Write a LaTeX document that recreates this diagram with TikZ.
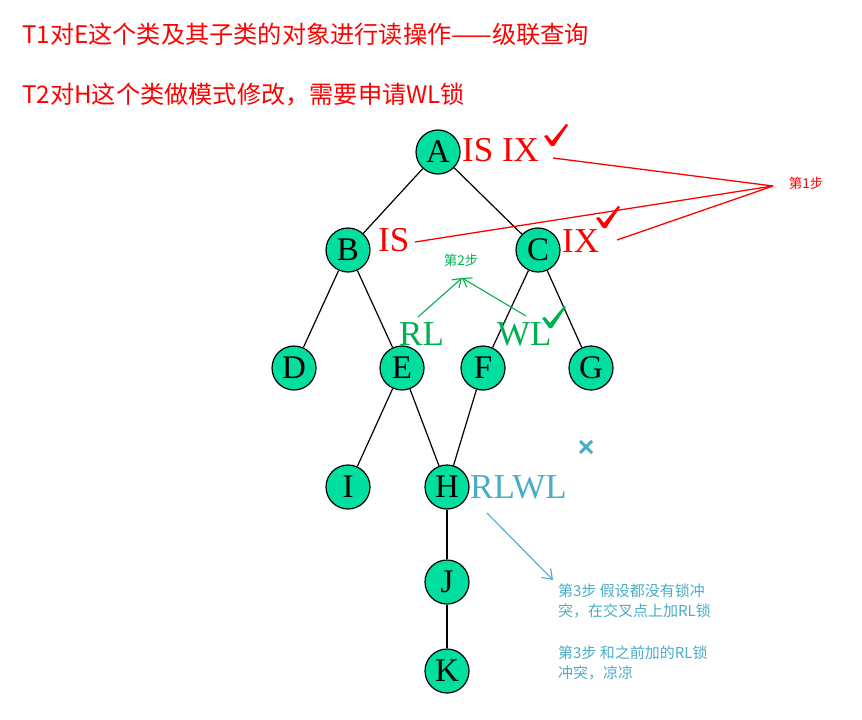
\documentclass[tikz,border=0pt]{standalone}
\usepackage{fontspec}
\setmainfont{Liberation Serif}
\newfontfamily\cjk{Noto Sans CJK SC}
\usetikzlibrary{arrows.meta}
\definecolor{mint}{RGB}{0,222,160}
\definecolor{lred}{RGB}{255,0,0}
\definecolor{lgreen}{RGB}{0,176,80}
\definecolor{lblue}{RGB}{75,172,198}
\begin{document}
\begin{tikzpicture}[x=1pt,y=-1pt,
  vtx/.style={circle,draw=black,line width=1.2pt,fill=mint,minimum size=44pt,inner sep=0pt,font=\fontsize{33}{33}\selectfont},
  edge/.style={line width=1.2pt},
  lbl/.style={anchor=base west,inner sep=0pt,font=\fontsize{35}{35}\selectfont},
  title/.style={anchor=west,inner sep=0pt,text=lred,font=\cjk\fontsize{24.2}{24.2}\selectfont},
  small/.style={inner sep=0pt,font=\cjk\fontsize{13.5}{13.5}\selectfont},
  note/.style={anchor=north west,inner sep=0pt,align=left,text=lblue,font=\cjk\fontsize{15}{20}\selectfont},
  chk/.pic={\fill[pic actions] (-1,0) -- (-8,-10) -- (-5,-11) -- (0,-5) -- (14,-22) -- (16,-21) -- (2,0) -- cycle;},
  redline/.style={lred,line width=1.3pt},
  grarrow/.style={lgreen,line width=1.1pt,-{Straight Barb[length=8pt,width=11pt]}},
  blarrow/.style={lblue,line width=1.1pt,-{Straight Barb[length=9pt,width=13pt]}}
]
\useasboundingbox (0,0) rectangle (862,720);

% titles
\node[title] (t1) at (22,34) {T1对E这个类及其子类的对象进行读操作——级联查询};
\node[title] (t2) at (22,95) {T2对H这个类做模式修改，需要申请WL锁};

% vertices
\node[vtx] (A) at (438,152) {A};
\node[vtx] (B) at (348,250) {B};
\node[vtx] (C) at (538,250) {C};
\node[vtx] (D) at (294,368) {D};
\node[vtx] (E) at (402,368) {E};
\node[vtx] (F) at (483,368) {F};
\node[vtx] (G) at (591,368) {G};
\node[vtx] (I) at (348,487) {I};
\node[vtx] (H) at (447,487) {H};
\node[vtx] (J) at (447,582) {J};
\node[vtx] (K) at (447,671) {K};

% tree edges
\draw[edge] (A) -- (B);
\draw[edge] (A) -- (C);
\draw[edge] (B) -- (D);
\draw[edge] (B) -- (E);
\draw[edge] (C) -- (F);
\draw[edge] (C) -- (G);
\draw[edge] (E) -- (I);
\draw[edge] (E) -- (H);
\draw[edge] (F) -- (H);
\draw[edge] (H) -- (J);
\draw[edge] (J) -- (K);

% step 1 labels (red)
\node[lbl,text=lred] (lA) at (462,161) {IS IX};
\node[lbl,text=lred] (lB) at (378,251) {IS};
\node[lbl,text=lred] (lC) at (562,252) {IX};
\pic[lred] at (552,146) {chk};
\pic[lred] at (604,228) {chk};
\node[small,text=lred] (s1) at (806,183) {第1步};
\coordinate (s1p) at (773,186);
\coordinate (r1) at (553,158);
\coordinate (r2) at (415,242);
\coordinate (r3) at (617,240);
\draw[redline] (r1) -- (s1p);
\draw[redline] (r2) -- (s1p);
\draw[redline] (r3) -- (s1p);

% step 2 labels (green)
\node[lbl,text=lgreen] (lE) at (399,345) {RL};
\node[lbl,text=lgreen] (lF) at (497,345) {WL};
\pic[lgreen] at (550,328) {chk};
\node[small,text=lgreen] (s2) at (461,260) {第2步};
\coordinate (g2) at (462,278);
\coordinate (g1a) at (418,317);
\coordinate (g1b) at (526,316);
\draw[grarrow] (g1a) -- (g2);
\draw[grarrow] (g1b) -- (g2);

% step 3 (blue)
\node[lbl,text=lblue] (lH) at (470,498) {RLWL};
\draw[lblue,line width=3pt] (580,441) -- (592,453) (592,441) -- (580,453);
\coordinate (b1) at (487,513);
\coordinate (b2) at (553,580);
\draw[blarrow] (b1) -- (b2);
\node[note] (n1) at (558,584) {第3步 假设都没有锁冲\\突，在交叉点上加RL锁};
\node[note] (n2) at (558,646) {第3步 和之前加的RL锁\\冲突，凉凉};
\end{tikzpicture}
\end{document}
